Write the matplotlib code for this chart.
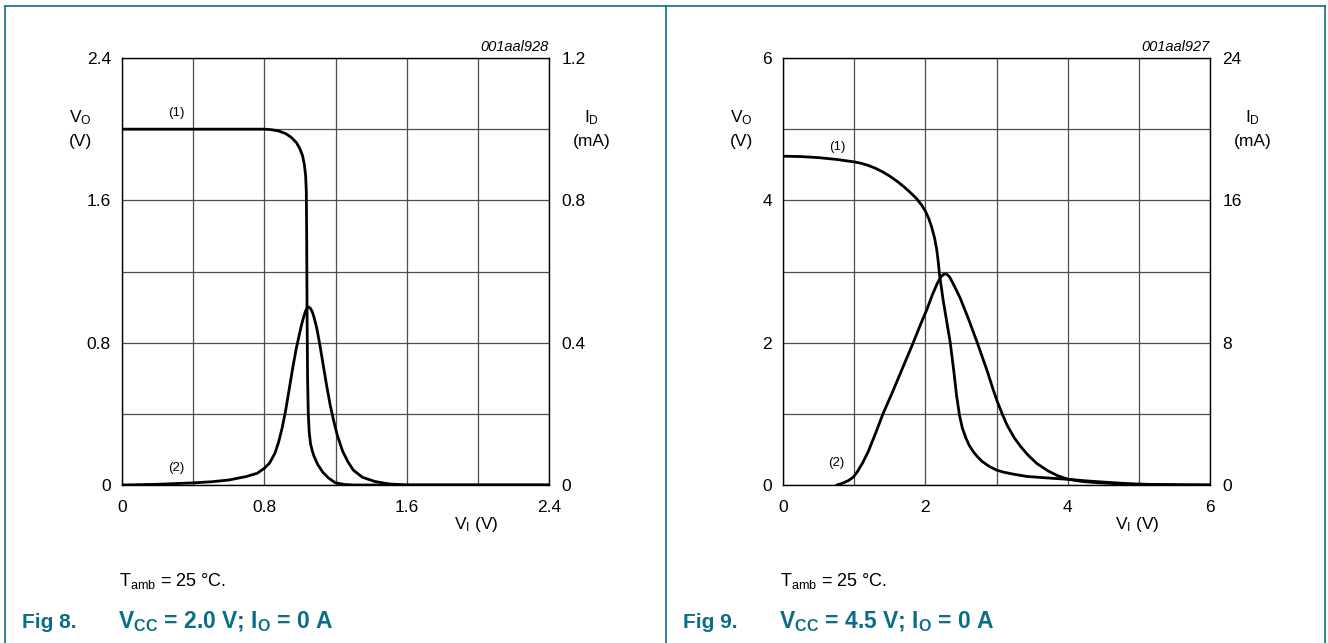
import matplotlib.pyplot as plt
from matplotlib.lines import Line2D
from matplotlib.ticker import MultipleLocator

plt.rcParams['font.family'] = ['Liberation Sans', 'DejaVu Sans']
plt.rcParams['mathtext.fontset'] = 'custom'
plt.rcParams['mathtext.rm'] = 'Liberation Sans'
plt.rcParams['mathtext.bf'] = 'Liberation Sans:bold'

TEAL = '#0b6e88'
W, H = 1328, 643

# ---- Fig 8 data (VCC = 2.0 V) ----
vi8_vo = [0, 0.4, 0.8, 0.84, 0.88, 0.92, 0.95, 0.98, 1.0, 1.015, 1.025, 1.032, 1.036,
          1.038, 1.04, 1.043, 1.047, 1.052, 1.06, 1.07, 1.08, 1.1, 1.13, 1.16, 1.2,
          1.25, 1.3, 1.6, 2.4]
vo8 = [2.0, 2.0, 2.0, 1.997, 1.99, 1.975, 1.955, 1.925, 1.89, 1.85, 1.8, 1.74, 1.65,
       1.4, 1.0, 0.6, 0.4, 0.3, 0.23, 0.19, 0.16, 0.115, 0.07, 0.04, 0.012,
       0.003, 0, 0, 0]
vi8_id = [0, 0.2, 0.4, 0.5, 0.6, 0.7, 0.76, 0.8, 0.83, 0.86, 0.88, 0.9, 0.92, 0.94,
          0.96, 0.98, 1.0, 1.01, 1.02, 1.03, 1.04, 1.05, 1.06, 1.07, 1.08, 1.095,
          1.11, 1.13, 1.15, 1.17, 1.19, 1.21, 1.24, 1.27, 1.3, 1.35, 1.42, 1.5, 1.6, 2.4]
id8 = [0, 0.002, 0.006, 0.009, 0.014, 0.024, 0.033, 0.047, 0.062, 0.09, 0.12, 0.16,
       0.21, 0.27, 0.33, 0.385, 0.43, 0.452, 0.47, 0.487, 0.497, 0.5, 0.496, 0.486,
       0.47, 0.44, 0.40, 0.34, 0.28, 0.225, 0.18, 0.14, 0.095, 0.065, 0.042, 0.022,
       0.01, 0.003, 0, 0]

# ---- Fig 9 data (VCC = 4.5 V) ----
vi9_vo = [0, 0.25, 0.5, 0.75, 1.0, 1.1, 1.2, 1.3, 1.4, 1.5, 1.6, 1.7, 1.8, 1.88, 1.95,
          2.0, 2.05, 2.09, 2.13, 2.16, 2.18, 2.2, 2.25, 2.3, 2.35, 2.4, 2.44, 2.48,
          2.52, 2.57, 2.62, 2.68, 2.73, 2.8, 2.9, 3.0, 3.1, 3.25, 3.43, 3.7, 4.0, 4.3,
          4.6, 4.93, 5.3, 5.7, 6.0]
vo9 = [4.62, 4.615, 4.60, 4.575, 4.54, 4.52, 4.49, 4.45, 4.40, 4.34, 4.27, 4.19, 4.10,
       4.02, 3.93, 3.85, 3.74, 3.62, 3.47, 3.31, 3.15, 2.95, 2.6, 2.3, 2.0, 1.6, 1.25,
       0.98, 0.8, 0.66, 0.55, 0.46, 0.40, 0.33, 0.26, 0.21, 0.18, 0.15, 0.12, 0.1,
       0.08, 0.055, 0.035, 0.014, 0.006, 0.002, 0]
vi9_id = [0.76, 0.85, 0.92, 0.99, 1.05, 1.12, 1.2, 1.3, 1.41, 1.52, 1.62, 1.73, 1.83,
          1.93, 2.02, 2.1, 2.17, 2.22, 2.26, 2.30, 2.34, 2.38, 2.43, 2.49, 2.6, 2.73,
          2.87, 2.95, 3.01, 3.08, 3.15, 3.25, 3.34, 3.45, 3.57, 3.72, 3.86, 4.0, 4.2,
          4.42, 4.7, 5.0, 5.5, 6.0]
id9 = [0, 0.12, 0.25, 0.45, 0.78, 1.25, 1.9, 2.9, 4.05, 5.05, 6.0, 7.05, 8.0, 9.0,
       9.85, 10.7, 11.35, 11.7, 11.85, 11.85, 11.7, 11.4, 11.0, 10.5, 9.4, 8.0, 6.4,
       5.4, 4.7, 4.0, 3.35, 2.65, 2.16, 1.65, 1.2, 0.8, 0.52, 0.33, 0.2, 0.13, 0.07,
       0.04, 0.01, 0]

panels = [
    dict(left=122, vmax=2.4, imax=1.2, major=0.8, minor=0.4, imajor=0.4,
         xlabels=['0', '0.8', '1.6', '2.4'], ylabels=['0', '0.8', '1.6', '2.4'],
         ilabels=['0', '0.4', '0.8', '1.2'],
         vi_vo=vi8_vo, vo=vo8, vi_id=vi8_id, i_d=id8, code='001aal928',
         lab1=(176, 113), lab2=(176, 468), vcc='2.0', fig='Fig 8.'),
    dict(left=783, vmax=6, imax=24, major=2, minor=1, imajor=8,
         xlabels=['0', '2', '4', '6'], ylabels=['0', '2', '4', '6'],
         ilabels=['0', '8', '16', '24'],
         vi_vo=vi9_vo, vo=vo9, vi_id=vi9_id, i_d=id9, code='001aal927',
         lab1=(837, 147), lab2=(836, 463), vcc='4.5', fig='Fig 9.'),
]

fig = plt.figure(figsize=(W / 100, H / 100), dpi=100)


def fx(px):
    return px / W


def fy(py):
    return 1 - py / H


for p in panels:
    L = p['left']
    ax = fig.add_axes([fx(L), fy(485), 427 / W, 427 / H])
    ax.set_xlim(0, p['vmax'])
    ax.set_ylim(0, p['vmax'])
    ax.set_xticks([i * p['major'] for i in range(4)])
    ax.set_yticks([i * p['major'] for i in range(4)])
    ax.xaxis.set_minor_locator(MultipleLocator(p['minor']))
    ax.yaxis.set_minor_locator(MultipleLocator(p['minor']))
    ax.set_xticklabels(p['xlabels'])
    ax.set_yticklabels(p['ylabels'])
    ax.tick_params(which='both', length=0, labelsize=12.5)
    ax.tick_params(axis='x', pad=11)
    ax.tick_params(axis='y', pad=8)
    ax.grid(which='both', color='#4d4d4d', lw=0.9)
    ax.set_axisbelow(True)
    for s in ax.spines.values():
        s.set_linewidth(1.0)
        s.set_color('black')

    ax.plot(p['vi_vo'], p['vo'], color='black', lw=2.0, solid_joinstyle='round', zorder=3)

    ax2 = ax.twinx()
    ax2.set_ylim(0, p['imax'])
    ax2.set_yticks([i * p['imajor'] for i in range(4)])
    ax2.set_yticklabels(p['ilabels'])
    ax2.tick_params(length=0, labelsize=12.5, pad=9)
    for s in ax2.spines.values():
        s.set_visible(False)
    ax2.plot(p['vi_id'], p['i_d'], color='black', lw=2.0, solid_joinstyle='round', zorder=3)

    # axis annotations
    fig.text(fx(L - 42), fy(118), r'$\mathregular{V_O}$', fontsize=12.5, ha='center', va='center')
    fig.text(fx(L - 42), fy(141), '(V)', fontsize=12.5, ha='center', va='center')
    fig.text(fx(L + 470), fy(118), r'$\mathregular{I_D}$', fontsize=12.5, ha='center', va='center')
    fig.text(fx(L + 470), fy(141), '(mA)', fontsize=12.5, ha='center', va='center')
    fig.text(fx(L + 427), fy(47), p['code'], fontsize=10.5, style='italic', ha='right', va='center')
    fig.text(fx(p['lab1'][0]), fy(p['lab1'][1]), '(1)', fontsize=9.5, ha='center', va='center')
    fig.text(fx(p['lab2'][0]), fy(p['lab2'][1]), '(2)', fontsize=9.5, ha='center', va='center')
    fig.text(fx(L + 354), fy(525), r'$\mathregular{V_I}$ (V)', fontsize=12.5, ha='center', va='center')
    fig.text(fx(L - 3), fy(581), r'$\mathregular{T_{amb}}$ = 25 °C.', fontsize=13, ha='left', va='center')
    fig.text(fx(L - 100), fy(622), p['fig'], fontsize=15, fontweight='bold', color=TEAL,
             ha='left', va='center')
    fig.text(fx(L - 4), fy(622),
             r'$\mathbf{V_{CC}}$ = ' + p['vcc'] + r' V; $\mathbf{I_O}$ = 0 A',
             fontsize=16.5, fontweight='bold', color=TEAL, ha='left', va='center')

# frame lines
for xs, ys in [((5, 5), (6, H)), ((5, 1325), (6, 6)), ((1325, 1325), (6, H)), ((666, 666), (6, H))]:
    fig.add_artist(Line2D([fx(x) for x in xs], [fy(y) for y in ys], color=TEAL, lw=1.2,
                          transform=fig.transFigure))

fig.savefig('out.png', dpi=100)
